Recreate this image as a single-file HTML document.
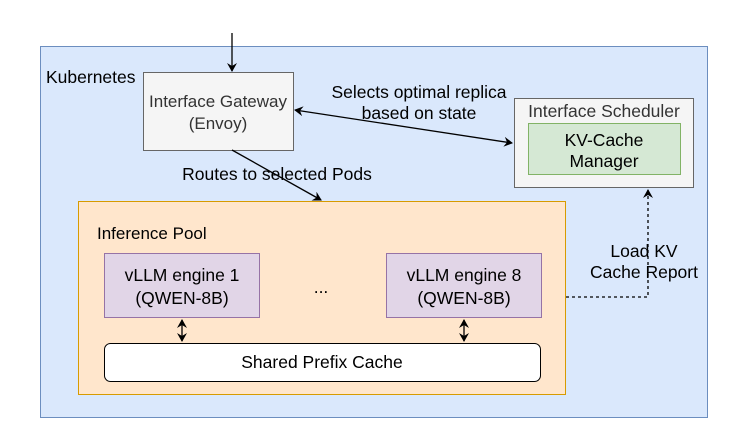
<!DOCTYPE html>
<html><head><style>
body{margin:0;background:#fff;}
svg text{font-family:"Liberation Sans",Arial,sans-serif;}
</style></head><body>
<svg width="748" height="443" xmlns="http://www.w3.org/2000/svg">
<defs>
<marker id="a" markerWidth="10" markerHeight="10" refX="8" refY="5" orient="auto-start-reverse" markerUnits="userSpaceOnUse">
<path d="M0,0 L9,5 L0,10 L3,5 Z" fill="#000"/></marker>
</defs>
<rect x="40.5" y="46.5" width="667" height="371" fill="#dae8fc" stroke="#6c8ebf"/>
<text x="46" y="83" font-size="17.5">Kubernetes</text>
<line x1="232" y1="33" x2="232" y2="71" stroke="#000" stroke-width="1.3" marker-end="url(#a)"/>
<rect x="143.5" y="72.5" width="150" height="78" fill="#f5f5f5" stroke="#666"/>
<text x="218" y="107" font-size="17" text-anchor="middle" fill="#333">Interface Gateway</text>
<text x="218" y="129" font-size="17" text-anchor="middle" fill="#333">(Envoy)</text>
<rect x="514.5" y="98.5" width="179" height="89" fill="#f5f5f5" stroke="#666"/>
<text x="604" y="117" font-size="17.5" text-anchor="middle" fill="#333">Interface Scheduler</text>
<rect x="528.5" y="123.5" width="152" height="51" fill="#d5e8d4" stroke="#82b366"/>
<text x="604" y="146" font-size="17.5" text-anchor="middle">KV-Cache</text>
<text x="604" y="167" font-size="17.5" text-anchor="middle">Manager</text>
<line x1="295" y1="110" x2="512" y2="143" stroke="#000" stroke-width="1.3" marker-start="url(#a)" marker-end="url(#a)"/>
<text x="419" y="98" font-size="17.5" text-anchor="middle">Selects optimal replica</text>
<text x="419" y="119" font-size="17.5" text-anchor="middle">based on state</text>
<rect x="78.5" y="201.5" width="487" height="193" fill="#ffe6cc" stroke="#d79b00"/>
<line x1="232" y1="150" x2="321" y2="200" stroke="#000" stroke-width="1.3" marker-end="url(#a)"/>
<text x="277" y="180" font-size="17.5" text-anchor="middle">Routes to selected Pods</text>
<text x="97" y="239" font-size="17">Inference Pool</text>
<rect x="104.5" y="253.5" width="155" height="64" fill="#e1d5e7" stroke="#9673a6"/>
<text x="182" y="281" font-size="17.5" text-anchor="middle">vLLM engine 1</text>
<text x="182" y="304" font-size="17.5" text-anchor="middle">(QWEN-8B)</text>
<rect x="386.5" y="253.5" width="155" height="64" fill="#e1d5e7" stroke="#9673a6"/>
<text x="464" y="281" font-size="17.5" text-anchor="middle">vLLM engine 8</text>
<text x="464" y="304" font-size="17.5" text-anchor="middle">(QWEN-8B)</text>
<text x="321" y="293" font-size="17.5" text-anchor="middle">...</text>
<rect x="104.5" y="343.5" width="436" height="38" rx="6" fill="#fff" stroke="#000"/>
<text x="322" y="368" font-size="17.5" text-anchor="middle">Shared Prefix Cache</text>
<line x1="182" y1="320" x2="182" y2="341" stroke="#000" stroke-width="1.3" marker-start="url(#a)" marker-end="url(#a)"/>
<line x1="464" y1="320" x2="464" y2="341" stroke="#000" stroke-width="1.3" marker-start="url(#a)" marker-end="url(#a)"/>
<path d="M566,297 H648 V190" fill="none" stroke="#000" stroke-width="1.3" stroke-dasharray="3,3" marker-end="url(#a)"/>
<text x="644" y="257" font-size="17.5" text-anchor="middle">Load  KV</text>
<text x="644" y="278" font-size="17.5" text-anchor="middle">Cache Report</text>
</svg>
</body></html>
